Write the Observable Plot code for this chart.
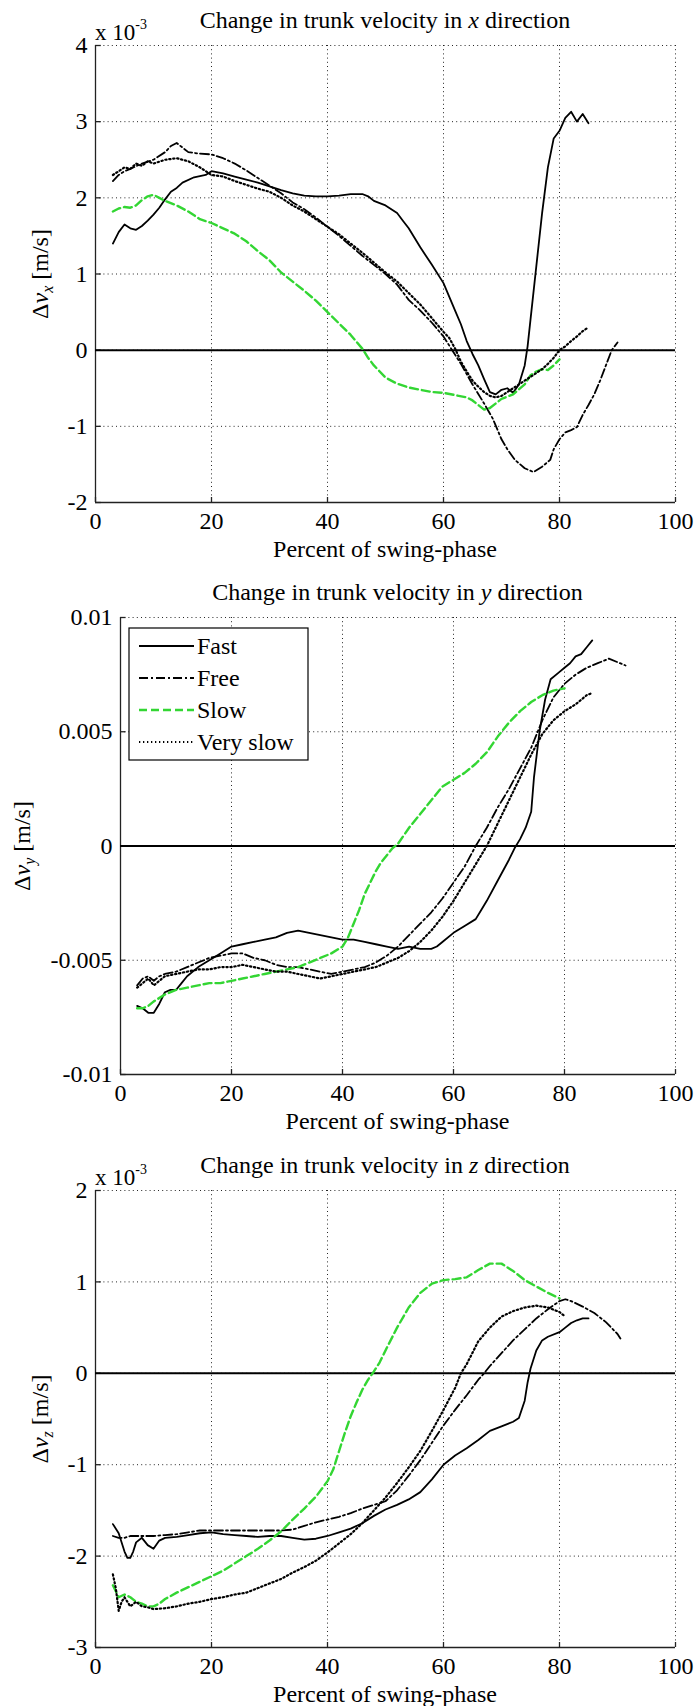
<!DOCTYPE html>
<html><head><meta charset="utf-8">
<script src="https://cdn.jsdelivr.net/npm/d3@7"></script>
<script src="https://cdn.jsdelivr.net/npm/@observablehq/plot@0.6"></script>
<style>
body{margin:0;background:#fff;}
#c{position:relative;width:695px;height:1706px;font-family:"Liberation Serif","Times New Roman",serif;color:#000;overflow:hidden;}
#c svg{position:absolute;}
#c svg text{font-family:"Liberation Serif","Times New Roman",serif !important;font-size:24px !important;fill:#000;}
.abs{position:absolute;white-space:nowrap;line-height:1;}
.ctr{transform:translate(-50%,-50%);}
.ylab{transform:translate(-50%,-50%) rotate(-90deg);font-size:24px;}
.ylab sub{font-size:16px;vertical-align:-5px;font-style:italic;}
.t{font-size:24px;}
.exp{font-size:23px;}
.exp sup{font-size:14px;vertical-align:11px;}
</style></head><body><div id="c"></div>
<script>
// ---- data (x: percent of swing-phase, y: change in trunk velocity) ----
const seriesNames = ["Fast", "Free", "Slow", "Very slow"];
const xTicks = [0, 20, 40, 60, 80, 100];
const xTickLabels = ["0", "20", "40", "60", "80", "100"];

// Panel x (values in units of 1e-3 m/s)
const xFast = [[3,1.4],[4,1.55],[5,1.65],[6,1.6],[7,1.58],[8,1.63],[9,1.7],[10,1.78],[11,1.87],[12,1.98],[13,2.08],[14,2.13],[15,2.2],[17,2.27],[19,2.3],[20,2.35],[22,2.32],[24,2.28],[26,2.24],[28,2.2],[30,2.15],[32,2.1],[34,2.06],[36,2.03],[38,2.02],[40,2.02],[42,2.03],[44,2.05],[46,2.05],[47,2.02],[48,1.96],[50,1.9],[52,1.8],[53,1.7],[54,1.6],[56,1.35],[58,1.12],[60,0.88],[61,0.7],[62,0.52],[63,0.34],[64,0.12],[65,-0.05],[66,-0.2],[67,-0.38],[68,-0.55],[69,-0.58],[70,-0.52],[71,-0.5],[72,-0.56],[73,-0.45],[74,-0.2],[74.5,0.05],[75,0.4],[76,1.1],[77,1.8],[78,2.4],[79,2.78],[80,2.88],[81,3.05],[82,3.13],[83,3.0],[84,3.1],[85,2.98]];
const xFree = [[3,2.22],[4,2.3],[5,2.35],[6,2.38],[8,2.45],[10,2.5],[12,2.6],[13,2.68],[14,2.72],[15,2.66],[16,2.6],[18,2.58],[20,2.57],[22,2.52],[24,2.45],[26,2.36],[28,2.26],[30,2.16],[32,2.06],[34,1.94],[36,1.85],[38,1.74],[40,1.62],[42,1.5],[44,1.37],[46,1.24],[48,1.12],[50,1.0],[52,0.86],[54,0.66],[56,0.52],[58,0.36],[60,0.18],[61.5,0.0],[63,-0.18],[65,-0.45],[67,-0.7],[68.5,-0.9],[70,-1.17],[71,-1.3],[72.3,-1.44],[74,-1.55],[75.5,-1.6],[77,-1.53],[78.4,-1.44],[79,-1.3],[80,-1.17],[81,-1.08],[82,-1.05],[83,-1.01],[84,-0.85],[85,-0.72],[86,-0.58],[87,-0.4],[88,-0.2],[89,0.0],[90,0.1]];
const xSlow = [[3,1.82],[4,1.86],[5,1.88],[6,1.87],[7,1.9],[8,1.97],[9,2.02],[10,2.04],[11,2.0],[12,1.96],[14,1.9],[16,1.82],[18,1.72],[20,1.67],[22,1.6],[24,1.53],[26,1.43],[28,1.3],[30,1.18],[32,1.02],[34,0.9],[36,0.78],[38,0.65],[40,0.5],[42,0.35],[44,0.2],[46,0.02],[47,-0.1],[48,-0.2],[49,-0.28],[50,-0.36],[52,-0.44],[54,-0.49],[56,-0.52],[58,-0.55],[60,-0.56],[62,-0.59],[64,-0.62],[65,-0.66],[66,-0.72],[67,-0.78],[68,-0.76],[69,-0.7],[70,-0.64],[72,-0.58],[74,-0.45],[75,-0.33],[76,-0.28],[77,-0.25],[78,-0.26],[79,-0.2],[80,-0.12]];
const xVslow = [[3,2.3],[4,2.35],[5,2.4],[6,2.38],[7,2.45],[8,2.42],[9,2.48],[10,2.45],[12,2.5],[14,2.52],[15,2.5],[16,2.48],[18,2.4],[20,2.3],[22,2.28],[24,2.22],[26,2.17],[28,2.12],[30,2.08],[32,2.0],[34,1.9],[36,1.82],[38,1.72],[40,1.62],[42,1.52],[44,1.4],[46,1.28],[48,1.15],[50,1.02],[52,0.9],[54,0.75],[56,0.6],[58,0.42],[60,0.24],[61,0.16],[62,0.02],[63,-0.15],[64,-0.28],[65,-0.4],[66,-0.48],[67,-0.55],[68,-0.6],[69,-0.62],[70,-0.6],[71,-0.55],[72,-0.5],[73,-0.45],[74,-0.4],[75,-0.35],[76,-0.3],[77,-0.25],[78,-0.18],[79,-0.1],[80,0.0],[81,0.05],[82,0.12],[83,0.18],[84,0.25],[85,0.3]];

// Panel y (values in m/s)
const yFast = [[3,-0.0070],[4,-0.0071],[5,-0.0073],[6,-0.0073],[7,-0.0069],[8,-0.0064],[9,-0.0063],[10,-0.0063],[11,-0.0060],[12,-0.0057],[14,-0.0053],[16,-0.0050],[18,-0.0047],[20,-0.0044],[22,-0.0043],[24,-0.0042],[26,-0.0041],[28,-0.0040],[30,-0.0038],[32,-0.0037],[34,-0.0038],[36,-0.0039],[38,-0.0040],[40,-0.0041],[42,-0.0041],[44,-0.0042],[46,-0.0043],[48,-0.0044],[50,-0.0045],[52,-0.0044],[54,-0.0045],[56,-0.0045],[57,-0.0044],[58,-0.0042],[60,-0.0038],[62,-0.0035],[64,-0.0032],[65,-0.0028],[66,-0.0024],[68,-0.0015],[70,-0.0006],[71,-0.0001],[72,0.0003],[73,0.0008],[74,0.0015],[74.5,0.0030],[75.5,0.0050],[76.5,0.0064],[77.5,0.0073],[79,0.0076],[80,0.0078],[81,0.0080],[82,0.0083],[83,0.0084],[84,0.0087],[85,0.0090]];
const yFree = [[3,-0.0061],[4,-0.0058],[5,-0.0057],[6,-0.0059],[7,-0.0057],[8,-0.0056],[10,-0.0055],[12,-0.0053],[14,-0.0051],[16,-0.0049],[18,-0.0048],[20,-0.0047],[22,-0.0047],[24,-0.0049],[26,-0.0050],[28,-0.0052],[30,-0.0053],[32,-0.0053],[34,-0.0054],[36,-0.0055],[38,-0.0056],[40,-0.0055],[42,-0.0054],[44,-0.0053],[46,-0.0051],[48,-0.0048],[50,-0.0044],[52,-0.0039],[54,-0.0034],[56,-0.0029],[58,-0.0023],[60,-0.0016],[62,-0.0009],[64,0.0000],[66,0.0008],[68,0.0017],[70,0.0025],[72,0.0034],[74,0.0043],[76,0.0055],[78,0.0065],[80,0.0071],[82,0.0075],[84,0.0078],[86,0.0080],[88,0.0082],[90,0.0080],[91,0.0079]];
const ySlow = [[3,-0.0071],[4,-0.0071],[5,-0.0070],[6,-0.0068],[8,-0.0065],[10,-0.0063],[12,-0.0062],[14,-0.0061],[16,-0.0060],[18,-0.0060],[20,-0.0059],[22,-0.0058],[24,-0.0057],[26,-0.0056],[28,-0.0055],[30,-0.0054],[32,-0.0053],[34,-0.0051],[36,-0.0049],[38,-0.0047],[40,-0.0044],[41,-0.0040],[42,-0.0034],[43,-0.0028],[44,-0.0021],[45,-0.0016],[46,-0.0011],[47,-0.0007],[48,-0.0004],[49,-0.0001],[50,0.0001],[52,0.0008],[54,0.0014],[56,0.0020],[58,0.0026],[60,0.0029],[62,0.0032],[64,0.0036],[66,0.0041],[68,0.0048],[70,0.0054],[72,0.0059],[74,0.0063],[76,0.0066],[78,0.0068],[80,0.0069]];
const yVslow = [[3,-0.0062],[4,-0.0060],[5,-0.0058],[6,-0.0061],[7,-0.0059],[8,-0.0057],[10,-0.0056],[12,-0.0055],[14,-0.0054],[16,-0.0054],[18,-0.0053],[20,-0.0053],[22,-0.0052],[24,-0.0053],[26,-0.0054],[28,-0.0055],[30,-0.0055],[32,-0.0056],[34,-0.0057],[36,-0.0058],[38,-0.0057],[40,-0.0056],[42,-0.0055],[44,-0.0054],[46,-0.0053],[48,-0.0051],[50,-0.0049],[52,-0.0046],[54,-0.0042],[56,-0.0037],[58,-0.0031],[60,-0.0024],[62,-0.0016],[64,-0.0008],[66,0.0000],[68,0.0010],[70,0.0020],[72,0.0030],[74,0.0040],[76,0.0049],[78,0.0055],[80,0.0059],[82,0.0062],[84,0.0066],[85,0.0067]];

// Panel z (values in units of 1e-3 m/s)
const zFast = [[3,-1.65],[4,-1.75],[5,-1.95],[5.5,-2.02],[6,-2.02],[6.5,-1.95],[7,-1.85],[8,-1.8],[9,-1.88],[10,-1.92],[11,-1.83],[12,-1.8],[14,-1.79],[16,-1.77],[18,-1.75],[20,-1.74],[22,-1.76],[24,-1.77],[26,-1.78],[28,-1.79],[30,-1.78],[32,-1.78],[34,-1.8],[36,-1.82],[38,-1.81],[40,-1.78],[42,-1.74],[44,-1.7],[46,-1.64],[48,-1.56],[50,-1.49],[52,-1.44],[54,-1.38],[56,-1.3],[58,-1.16],[60,-1.0],[62,-0.9],[64,-0.82],[66,-0.73],[68,-0.63],[70,-0.58],[72,-0.53],[73,-0.49],[74,-0.3],[74.5,-0.1],[75,0.05],[76,0.25],[77,0.36],[78,0.4],[80,0.45],[81,0.5],[82,0.55],[83,0.58],[84,0.6],[85,0.6]];
const zFree = [[3,-1.78],[4,-1.8],[5,-1.8],[6,-1.78],[8,-1.78],[10,-1.78],[12,-1.77],[14,-1.76],[16,-1.74],[18,-1.72],[20,-1.72],[22,-1.72],[24,-1.72],[26,-1.72],[28,-1.72],[30,-1.72],[32,-1.72],[34,-1.71],[36,-1.67],[38,-1.63],[40,-1.6],[42,-1.57],[44,-1.53],[46,-1.48],[48,-1.44],[50,-1.4],[52,-1.28],[54,-1.12],[56,-0.95],[58,-0.76],[60,-0.57],[62,-0.4],[64,-0.24],[66,-0.07],[67,0.0],[68,0.08],[70,0.22],[72,0.36],[74,0.48],[76,0.6],[78,0.7],[80,0.79],[81,0.81],[82,0.79],[84,0.73],[86,0.66],[88,0.56],[90,0.43],[90.5,0.38]];
const zSlow = [[3,-2.32],[4,-2.45],[5,-2.42],[6,-2.45],[7,-2.5],[8,-2.52],[9,-2.55],[10,-2.55],[11,-2.52],[12,-2.47],[14,-2.4],[16,-2.34],[18,-2.28],[20,-2.22],[22,-2.16],[24,-2.08],[26,-2.0],[28,-1.92],[30,-1.83],[32,-1.73],[34,-1.6],[36,-1.48],[38,-1.35],[40,-1.18],[41,-1.05],[42,-0.85],[43,-0.65],[44,-0.47],[45,-0.32],[46,-0.18],[47,-0.07],[48,0.02],[49,0.12],[50,0.25],[52,0.5],[54,0.72],[56,0.88],[58,0.98],[60,1.02],[62,1.03],[64,1.05],[66,1.13],[68,1.2],[70,1.2],[72,1.12],[74,1.02],[76,0.95],[78,0.88],[80,0.82]];
const zVslow = [[3,-2.2],[3.5,-2.35],[4,-2.6],[4.5,-2.5],[5,-2.45],[6,-2.55],[7,-2.5],[8,-2.55],[9,-2.56],[10,-2.58],[12,-2.57],[14,-2.55],[16,-2.52],[18,-2.5],[20,-2.47],[22,-2.45],[24,-2.42],[26,-2.4],[28,-2.35],[30,-2.3],[32,-2.25],[34,-2.18],[36,-2.12],[38,-2.05],[40,-1.96],[42,-1.86],[44,-1.76],[46,-1.64],[48,-1.5],[50,-1.36],[52,-1.2],[54,-1.03],[56,-0.85],[58,-0.63],[60,-0.4],[62,-0.16],[63,0.0],[64,0.1],[66,0.35],[68,0.5],[70,0.62],[72,0.68],[74,0.72],[76,0.74],[78,0.72],[80,0.67],[81,0.62]];

const yTicksX = [-2, -1, 0, 1, 2, 3, 4];
const yTickLabelsX = ["-2", "-1", "0", "1", "2", "3", "4"];
const yTicksY = [-0.01, -0.005, 0, 0.005, 0.01];
const yTickLabelsY = ["-0.01", "-0.005", "0", "0.005", "0.01"];
const yTicksZ = [-3, -2, -1, 0, 1, 2];
const yTickLabelsZ = ["-3", "-2", "-1", "0", "1", "2"];

// ---- styles ----
const seriesStyle = {
  "Fast": {stroke: "#000", strokeWidth: 1.8, dash: null},
  "Free": {stroke: "#000", strokeWidth: 1.8, dash: "9,3,2,3"},
  "Slow": {stroke: "#33d633", strokeWidth: 2.4, dash: "8,4"},
  "Very slow": {stroke: "#000", strokeWidth: 2.2, dash: "1.3,2.7"}
};

const panels = [
  {dir: "x", top: 45, left: 95, ticks: yTicksX, labels: yTickLabelsX, data: [xFast, xFree, xSlow, xVslow], exp: true, legend: false, ylabX: 42},
  {dir: "y", top: 617, left: 120, ticks: yTicksY, labels: yTickLabelsY, data: [yFast, yFree, ySlow, yVslow], exp: false, legend: true, ylabX: 24},
  {dir: "z", top: 1190, left: 95, ticks: yTicksZ, labels: yTickLabelsZ, data: [zFast, zFree, zSlow, zVslow], exp: true, legend: false, ylabX: 42}
];

const W = 695, right = 675, frameH = 457, mTop = 45, mBottom = 40;
const root = document.getElementById("c");

function addDiv(html, cls, x, y) {
  const d = document.createElement("div");
  d.className = "abs " + cls;
  d.style.left = x + "px";
  d.style.top = y + "px";
  d.innerHTML = html;
  root.appendChild(d);
  return d;
}

panels.forEach(p => {
  const yMin = d3.min(p.ticks), yMax = d3.max(p.ticks);
  const xLab = new Map(xTicks.map((t, i) => [t, xTickLabels[i]]));
  const yLab = new Map(p.ticks.map((t, i) => [t, p.labels[i]]));
  const tickY = (yMax - yMin) * 0.011;
  const marks = [
    Plot.gridX(xTicks, {stroke: "#000", strokeOpacity: 0.85, strokeWidth: 1, strokeDasharray: "1,3.2"}),
    Plot.gridY(p.ticks, {stroke: "#000", strokeOpacity: 0.85, strokeWidth: 1, strokeDasharray: "1,3.2"}),
    Plot.ruleX([0], {stroke: "#222", strokeWidth: 1.3}),
    Plot.ruleY([yMin], {stroke: "#222", strokeWidth: 1.3}),
    Plot.ruleX(xTicks, {y1: yMin, y2: yMin + tickY, stroke: "#222", strokeWidth: 1.3}),
    Plot.ruleY(p.ticks, {x1: 0, x2: 1.0, stroke: "#222", strokeWidth: 1.3}),
    Plot.ruleY([0], {stroke: "#000", strokeWidth: 2})
  ];
  seriesNames.forEach((name, i) => {
    const s = seriesStyle[name];
    marks.push(Plot.line(p.data[i], {x: d => d[0], y: d => d[1], stroke: s.stroke, strokeWidth: s.strokeWidth,
      strokeDasharray: s.dash, strokeLinejoin: "round", curve: "linear"}));
  });
  marks.push(Plot.axisX({ticks: xTicks, tickSize: 0, tickPadding: 9, tickFormat: d => xLab.get(d), label: null}));
  marks.push(Plot.axisY({ticks: p.ticks, tickSize: 0, tickPadding: 8, tickFormat: d => yLab.get(d), label: null}));

  const svg = Plot.plot({
    width: W, height: mTop + frameH + mBottom,
    marginTop: mTop, marginBottom: mBottom, marginLeft: p.left, marginRight: W - right,
    x: {domain: [0, 100]},
    y: {domain: [yMin, yMax]},
    style: {fontFamily: "Liberation Serif, serif", fontSize: "24px", color: "#000", background: "transparent", overflow: "visible"},
    marks
  });
  svg.style.left = "0px";
  svg.style.top = (p.top - mTop) + "px";
  root.appendChild(svg);

  const cx = (p.left + right) / 2;
  addDiv(`Change in trunk velocity in <i>${p.dir}</i> direction`, "t ctr", cx, p.top - 25);
  addDiv("Percent of swing-phase", "t ctr", cx, p.top + frameH + 47);
  addDiv(`&Delta;<i>v</i><sub>${p.dir}</sub> [m/s]`, "ylab", p.ylabX, p.top + frameH / 2);
  if (p.exp) addDiv("x 10<sup>-3</sup>", "exp", p.left, p.top - 27);

  if (p.legend) {
    const lx = 129, ly = 628, lw = 179, lh = 132;
    const g = d3.create("svg").attr("width", W).attr("height", 1706)
      .style("left", "0px").style("top", "0px").style("pointer-events", "none");
    g.append("rect").attr("x", lx).attr("y", ly).attr("width", lw).attr("height", lh)
      .attr("fill", "#fff").attr("stroke", "#000").attr("stroke-width", 1.2);
    seriesNames.forEach((name, i) => {
      const s = seriesStyle[name];
      const yy = ly + 18 + i * 32;
      g.append("line").attr("x1", lx + 10).attr("x2", lx + 65).attr("y1", yy).attr("y2", yy)
        .attr("stroke", s.stroke).attr("stroke-width", s.strokeWidth).attr("stroke-dasharray", s.dash);
      g.append("text").attr("x", lx + 68).attr("y", yy).attr("dy", "0.35em").text(name);
    });
    root.appendChild(g.node());
  }
});
</script></body></html>
